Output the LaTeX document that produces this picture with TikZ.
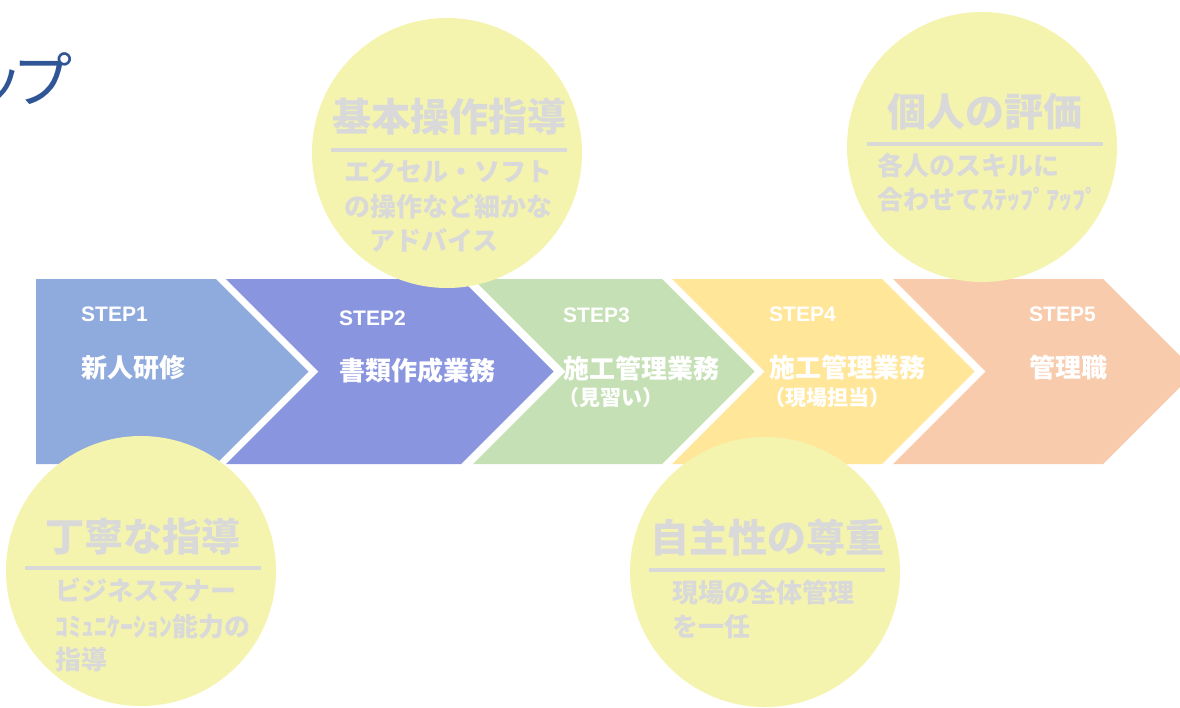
\documentclass[tikz,border=0pt]{standalone}
\usepackage{fontspec}
\newfontfamily\jp{Noto Sans CJK JP}
\newfontfamily\lat{Liberation Sans}
\definecolor{cone}{HTML}{8FAADC}
\definecolor{ctwo}{HTML}{8A95E0}
\definecolor{cthree}{HTML}{C5E0B4}
\definecolor{cfour}{HTML}{FFE699}
\definecolor{cfive}{HTML}{F8CBAD}
\definecolor{bubblecol}{HTML}{F4F4AE}
\definecolor{graytxt}{HTML}{D9D9D9}
\definecolor{titleblue}{HTML}{2F5597}
\tikzset{
  steplbl/.style={anchor=west, inner sep=0pt, text=white, font=\lat\bfseries\fontsize{21}{21}\selectfont},
  stepmain/.style={anchor=west, inner sep=0pt, text=white, font=\jp\bfseries\fontsize{26}{26}\selectfont},
  stepsub/.style={anchor=west, inner sep=0pt, text=white, font=\jp\bfseries\fontsize{21}{21}\selectfont},
  bubble/.style={fill=bubblecol, draw=none},
  btitle/.style={inner sep=0pt, text=graytxt, font=\jp\bfseries\fontsize{39}{39}\selectfont},
  bsub/.style={anchor=west, inner sep=0pt, text=graytxt, font=\jp\bfseries\fontsize{26}{26}\selectfont},
  bline/.style={draw=graytxt, line width=3.5pt},
}
\begin{document}
\begin{tikzpicture}[x=1pt,y=-1pt]
\useasboundingbox (0,0) rectangle (1180,707);
\clip (0,0) rectangle (1180,707);
\fill[white] (0,0) rectangle (1180,707);

% title fragment (cut off at the left edge, as in the reference)
\node[anchor=base east, inner sep=0pt, text=titleblue, font=\jp\fontsize{60}{60}\selectfont] (ttl) at (73,102) {ッ\kern-12ptプ};

% chevrons
\fill[cone] (36,279) -- (216,279) -- (308.5,371.5) -- (216,464) -- (36,464) -- cycle;
\fill[ctwo] (226,279) -- (461,279) -- (553.5,371.5) -- (461,464) -- (226,464) -- (318.5,371.5) -- cycle;
\fill[cthree] (473,279) -- (662,279) -- (754.5,371.5) -- (662,464) -- (473,464) -- (565.5,371.5) -- cycle;
\fill[cfour] (672,279) -- (882,279) -- (974.5,371.5) -- (882,464) -- (672,464) -- (764.5,371.5) -- cycle;
\fill[cfive] (893,279) -- (1103,279) -- (1195.5,371.5) -- (1103,464) -- (893,464) -- (985.5,371.5) -- cycle;

% step texts
\node[steplbl] (s1) at (81,314) {STEP1};
\node[stepmain] (m1) at (81,368) {新人研修};
\node[steplbl] (s2) at (339,318) {STEP2};
\node[stepmain] (m2) at (339,371) {書類作成業務};
\node[steplbl] (s3) at (563,315) {STEP3};
\node[stepmain] (m3) at (563,369) {施工管理業務};
\node[stepsub] (u3) at (558,398) {（見習い）};
\node[steplbl] (s4) at (769,314) {STEP4};
\node[stepmain] (m4) at (769,368) {施工管理業務};
\node[stepsub] (u4) at (764,398) {（現場担当）};
\node[steplbl] (s5) at (1029,314) {STEP5};
\node[stepmain] (m5) at (1029,368) {管理職};

% bubble 1
\fill[bubble] (447,153) circle[radius=135pt];
\node[btitle] (b1t) at (449,117) {基本操作指導};
\draw[bline] (331,150) -- (567,150);
\node[bsub] (b1a) at (344,172) {エクセル・ソフト};
\node[bsub] (b1b) at (344,207) {の操作など細かな};
\node[bsub] (b1c) at (369,240) {アドバイス};

% bubble 2
\fill[bubble] (982,147) circle[radius=135pt];
\node[btitle] (b2t) at (985,112) {個人の評価};
\draw[bline] (867,144) -- (1103,144);
\node[bsub] (b2a) at (877,165) {各人のスキルに};
\node[bsub] (b2b) at (877,200) {合わせてｽﾃｯﾌﾟｱｯﾌﾟ};

% bubble 3
\fill[bubble] (141,571) circle[radius=135pt];
\node[btitle] (b3t) at (142.5,537) {丁寧な指導};
\draw[bline] (25,568) -- (261,568);
\node[bsub] (b3a) at (55,590) {ビジネスマナー};
\node[bsub] (b3b) at (55,627) {ｺﾐｭﾆｹｰｼｮﾝ能力の};
\node[bsub] (b3c) at (55,660) {指導};

% bubble 4
\fill[bubble] (765,572) circle[radius=135pt];
\node[btitle] (b4t) at (767,537) {自主性の尊重};
\draw[bline] (649,570) -- (885,570);
\node[bsub] (b4a) at (672,593) {現場の全体管理};
\node[bsub] (b4b) at (672,627) {を一任};
\end{tikzpicture}
\end{document}
